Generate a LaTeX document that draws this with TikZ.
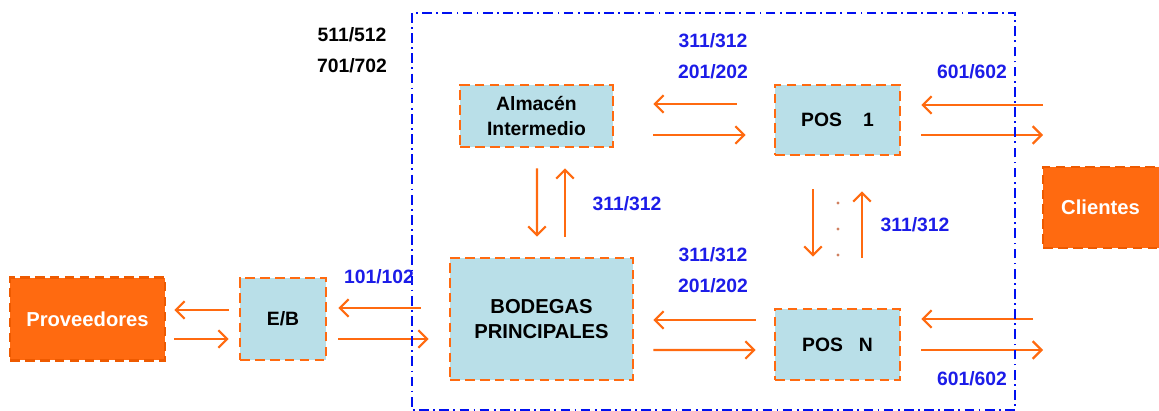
\documentclass[tikz,border=0pt]{standalone}
\usepackage{fontspec}
\setmainfont{Liberation Sans}
\usepackage{xcolor}
\definecolor{colOrange}{HTML}{FF6A10}
\definecolor{colOrangeDark}{HTML}{EE5A00}
\definecolor{colBox}{HTML}{B9DFE8}
\definecolor{colCode}{HTML}{1C1CE8}
\definecolor{colFrame}{HTML}{0010F0}
\definecolor{colDot}{HTML}{D08060}
\usetikzlibrary{arrows.meta, positioning, calc}

\begin{document}
\begin{tikzpicture}[x=0.02cm, y=-0.02cm,
    stockbox/.style={draw=colOrange, fill=colBox, line width=1.5pt,
      dash pattern=on 5.5pt off 3pt, inner sep=0pt, align=center,
      font=\bfseries\fontsize{11}{14.5}\selectfont},
    partybox/.style={draw=colOrangeDark, fill=colOrange, line width=1.5pt,
      dash pattern=on 5.5pt off 3pt, inner sep=0pt, text=white,
      font=\bfseries\fontsize{11.5}{14}\selectfont},
    flow/.style={draw=colOrange, line width=1.25pt,
      -{Straight Barb[length=5pt,width=10pt]}},
    code/.style={text=colCode, inner sep=0pt,
      font=\bfseries\fontsize{11}{13}\selectfont},
    frame/.style={draw=colFrame, line width=1.1pt,
      dash pattern=on 5.5pt off 2.5pt on 1pt off 2.5pt},
  ]
  \useasboundingbox (0,0) rectangle (1159,411);

  % === Cajas ===
  \node[partybox, minimum width=3.1cm, minimum height=1.66cm] (prov) at (87.5,319) {Proveedores};
  \node[stockbox, minimum width=1.72cm, minimum height=1.64cm] (eb) at (283,319) {E/B};
  \node[stockbox, minimum width=3.66cm, minimum height=2.44cm,
    font=\bfseries\fontsize{11.5}{14.5}\selectfont] (bod) at (541.5,319) {BODEGAS\\PRINCIPALES};
  \node[stockbox, minimum width=3.06cm, minimum height=1.24cm] (alm) at (536.5,116) {Almac\'en\\Intermedio};
  \node[stockbox, minimum width=2.5cm, minimum height=1.4cm] (pos1) at (837.5,120) {POS\hspace{12pt}1};
  \node[stockbox, minimum width=2.5cm, minimum height=1.42cm] (posn) at (837.5,344.5) {POS\hspace{9pt}N};
  \node[partybox, minimum width=2.4cm, minimum height=1.62cm] (cli) at (1103,207.5) {\hspace*{-0.1cm}Clientes};
  \coordinate (cliTop) at (1043,120);
  \coordinate (cliBot) at (1043,334.5);

  % === Flujos ===
  \draw[flow] ($(eb.west)+(-10,-9)$) -- ($(prov.east)+(8,-9)$);
  \draw[flow] ($(prov.east)+(8,20)$) -- ($(eb.west)+(-10,20)$);
  \draw[flow] ($(bod.west)+(-28,-11)$) -- ($(eb.east)+(11,-11)$);
  \draw[flow] ($(eb.east)+(11,20)$) -- ($(bod.west)+(-20,20)$);
  \draw[flow] ($(pos1.west)+(-37,-16)$) -- ($(alm.east)+(39,-12)$);
  \draw[flow] ($(alm.east)+(39,19)$) -- ($(pos1.west)+(-28,15)$);
  \draw[flow] ($(cliTop)+(0,-15)$) -- ($(pos1.east)+(20,-15)$);
  \draw[flow] ($(pos1.east)+(20,15)$) -- ($(cliTop)+(0,15)$);
  \draw[flow] ($(posn.west)+(-18,-24.5)$) -- ($(bod.east)+(19,1)$);
  \draw[flow] ($(bod.east)+(19,31)$) -- ($(posn.west)+(-18,5.5)$);
  \draw[flow] ($(cliBot)+(-10,-15.5)$) -- ($(posn.east)+(20,-25.5)$);
  \draw[flow] ($(posn.east)+(20,5.5)$) -- ($(cliBot)+(0,15.5)$);
  % verticales
  \draw[flow] ($(alm.south)+(0.5,20)$) -- ($(bod.north)+(-4.5,-20)$);
  \draw[flow] ($(bod.north)+(23.5,-20)$) -- ($(alm.south)+(28.5,20)$);
  \draw[flow] ($(pos1.south)+(-24.5,33)$) -- ($(posn.north)+(-24.5,-51)$);
  \draw[flow] ($(posn.north)+(24.5,-50)$) -- ($(pos1.south)+(24.5,35)$);
  \foreach \y in {203,229,255}
    \fill[colDot] (838,\y) circle (1.6);

  % Marco
  \draw[frame] (412,13) rectangle (1015,410);

  % === Etiquetas ===
  \node[code, text=black] (m511) at (352,35) {511/512};
  \node[code, text=black] (m701) at (352,66) {701/702};
  \node[code] (t311a) at (713,41) {311/312};
  \node[code] (t201a) at (713,72) {201/202};
  \node[code] (t601a) at (972,72) {601/602};
  \node[code] (t311b) at (627,204) {311/312};
  \node[code] (t311c) at (915,225) {311/312};
  \node[code] (t311d) at (713,255) {311/312};
  \node[code] (t201d) at (713,286) {201/202};
  \node[code] (t101) at (379,277) {101/102};
  \node[code] (t601b) at (972,379) {601/602};
\end{tikzpicture}
\end{document}
